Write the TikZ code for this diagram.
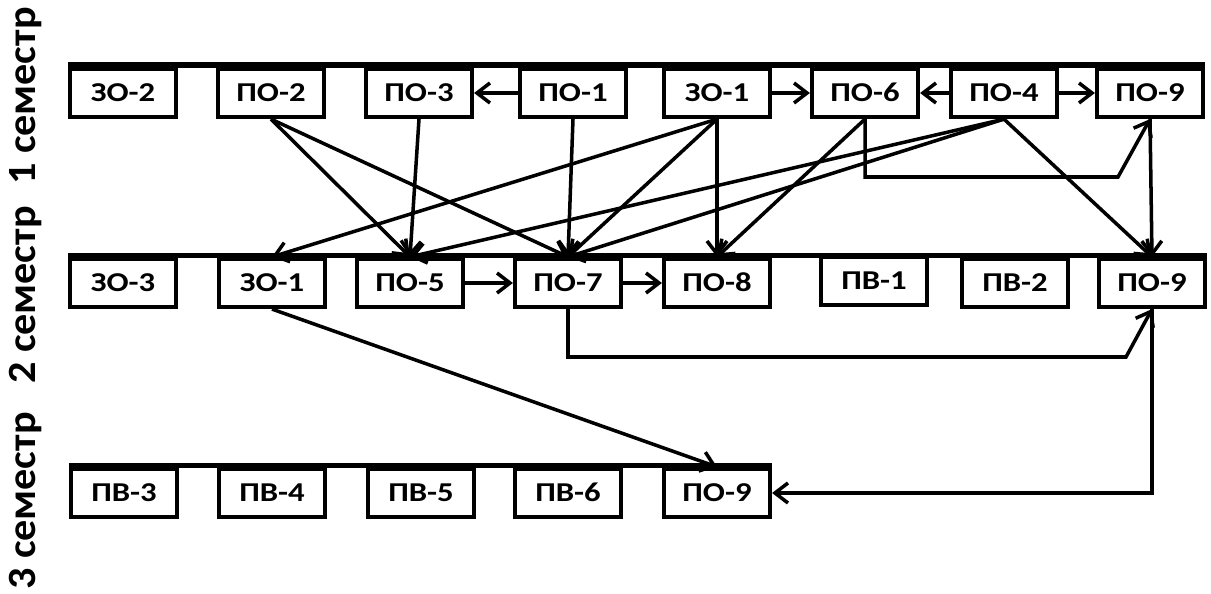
\documentclass[tikz,border=0pt]{standalone}
\usepackage{fontspec}
\usepackage{graphicx}
\setmainfont{Carlito}
\usetikzlibrary{arrows.meta}
\tikzset{>={Straight Barb[length=2.6mm,width=4mm]}}
\tikzset{
  subj/.style={draw, line width=2.4pt, minimum width=2.12cm, minimum height=0.96cm, inner sep=0pt,
    text height=0.36cm, text depth=0pt, font=\bfseries\fontsize{15.5}{16}\selectfont},
  sem/.style={rotate=90, inner sep=0pt, font=\bfseries\fontsize{24}{26}\selectfont},
  topline/.style={line width=3pt},
  link/.style={->, line width=2pt}
}
\newcommand{\wide}[1]{\scalebox{1.2}[1]{#1}}
\newcommand{\tall}[1]{\scalebox{1}[0.95]{#1}}

\begin{document}
\begin{tikzpicture}[x=0.02cm, y=-0.02cm]
  \useasboundingbox (0,0) rectangle (1211,594);

  % semesters
  \node[sem] (s1) at (26,96) {\tall{1 семестр}};
  \node[sem] (s2) at (26,295) {\tall{2 семестр}};
  \node[sem] (s3) at (26,501) {\tall{3 семестр}};

  % 1 semester
  \node[subj] (zo2) at (123,93) {\wide{ЗО-2}};
  \node[subj] (po2) at (271,93) {\wide{ПО-2}};
  \node[subj] (po3) at (419,93) {\wide{ПО-3}};
  \node[subj] (po1) at (573,93) {\wide{ПО-1}};
  \node[subj] (zo1) at (717,93) {\wide{ЗО-1}};
  \node[subj] (po6) at (865,93) {\wide{ПО-6}};
  \node[subj] (po4) at (1004,93) {\wide{ПО-4}};
  \node[subj] (po9a) at (1150,93) {\wide{ПО-9}};
  \draw[topline] ([yshift=1pt]zo2.north west) -- ([yshift=1pt]po9a.north east);

  % 2 semester
  \node[subj] (zo3) at (123,283) {\wide{ЗО-3}};
  \node[subj] (zo1b) at (272,283) {\wide{ЗО-1}};
  \node[subj] (po5) at (410,283) {\wide{ПО-5}};
  \node[subj] (po7) at (568,283) {\wide{ПО-7}};
  \node[subj] (po8) at (717,283) {\wide{ПО-8}};
  \node[subj] (pv1) at (874,281) {\wide{ПВ-1}};
  \node[subj] (pv2) at (1015,283) {\wide{ПВ-2}};
  \node[subj] (po9b) at (1152,283) {\wide{ПО-9}};
  \draw[topline] ([yshift=1pt]zo3.north west) -- ([yshift=1pt]po9b.north east);

  % 3 semester
  \node[subj] (pv3) at (124,493) {\wide{ПВ-3}};
  \node[subj] (pv4) at (272,493) {\wide{ПВ-4}};
  \node[subj] (pv5) at (421,493) {\wide{ПВ-5}};
  \node[subj] (pv6) at (568,493) {\wide{ПВ-6}};
  \node[subj] (po9c) at (717,493) {\wide{ПО-9}};
  \draw[topline] ([yshift=1pt]pv3.north west) -- ([yshift=1pt]po9c.north east);

  \coordinate (k1) at (1118,177);
  \coordinate (k2) at (1126,357);

  \path[link]
    (po1) edge (po3)
    (zo1) edge (po6)
    (po4) edge (po6)
    (po4) edge (po9a)
    (po5) edge (po7)
    (po7) edge (po8);

  \path[link]
    (po2.south) edge (po5.north)
    (po2.south) edge (po7.north)
    (po3.south) edge (po5.north)
    (po1.south) edge (po7.north)
    (zo1.south) edge (zo1b.north)
    (zo1.south) edge (po7.north)
    (zo1.south) edge (po8.north)
    (po6.south) edge (po8.north)
    (po4.south) edge (po5.north)
    (po4.south) edge (po7.north)
    (po4.south) edge (po9b.north)
    (po9a.south) edge (po9b.north)
    (zo1b.south) edge (po9c.north);

  \draw[link] (po6.south) |- (k1) -- (po9a.south);
  \draw[link] (po7.south) |- (k2) -- (po9b.south);
  \draw[link] (po9b.south) |- (po9c.east);
\end{tikzpicture}
\end{document}
